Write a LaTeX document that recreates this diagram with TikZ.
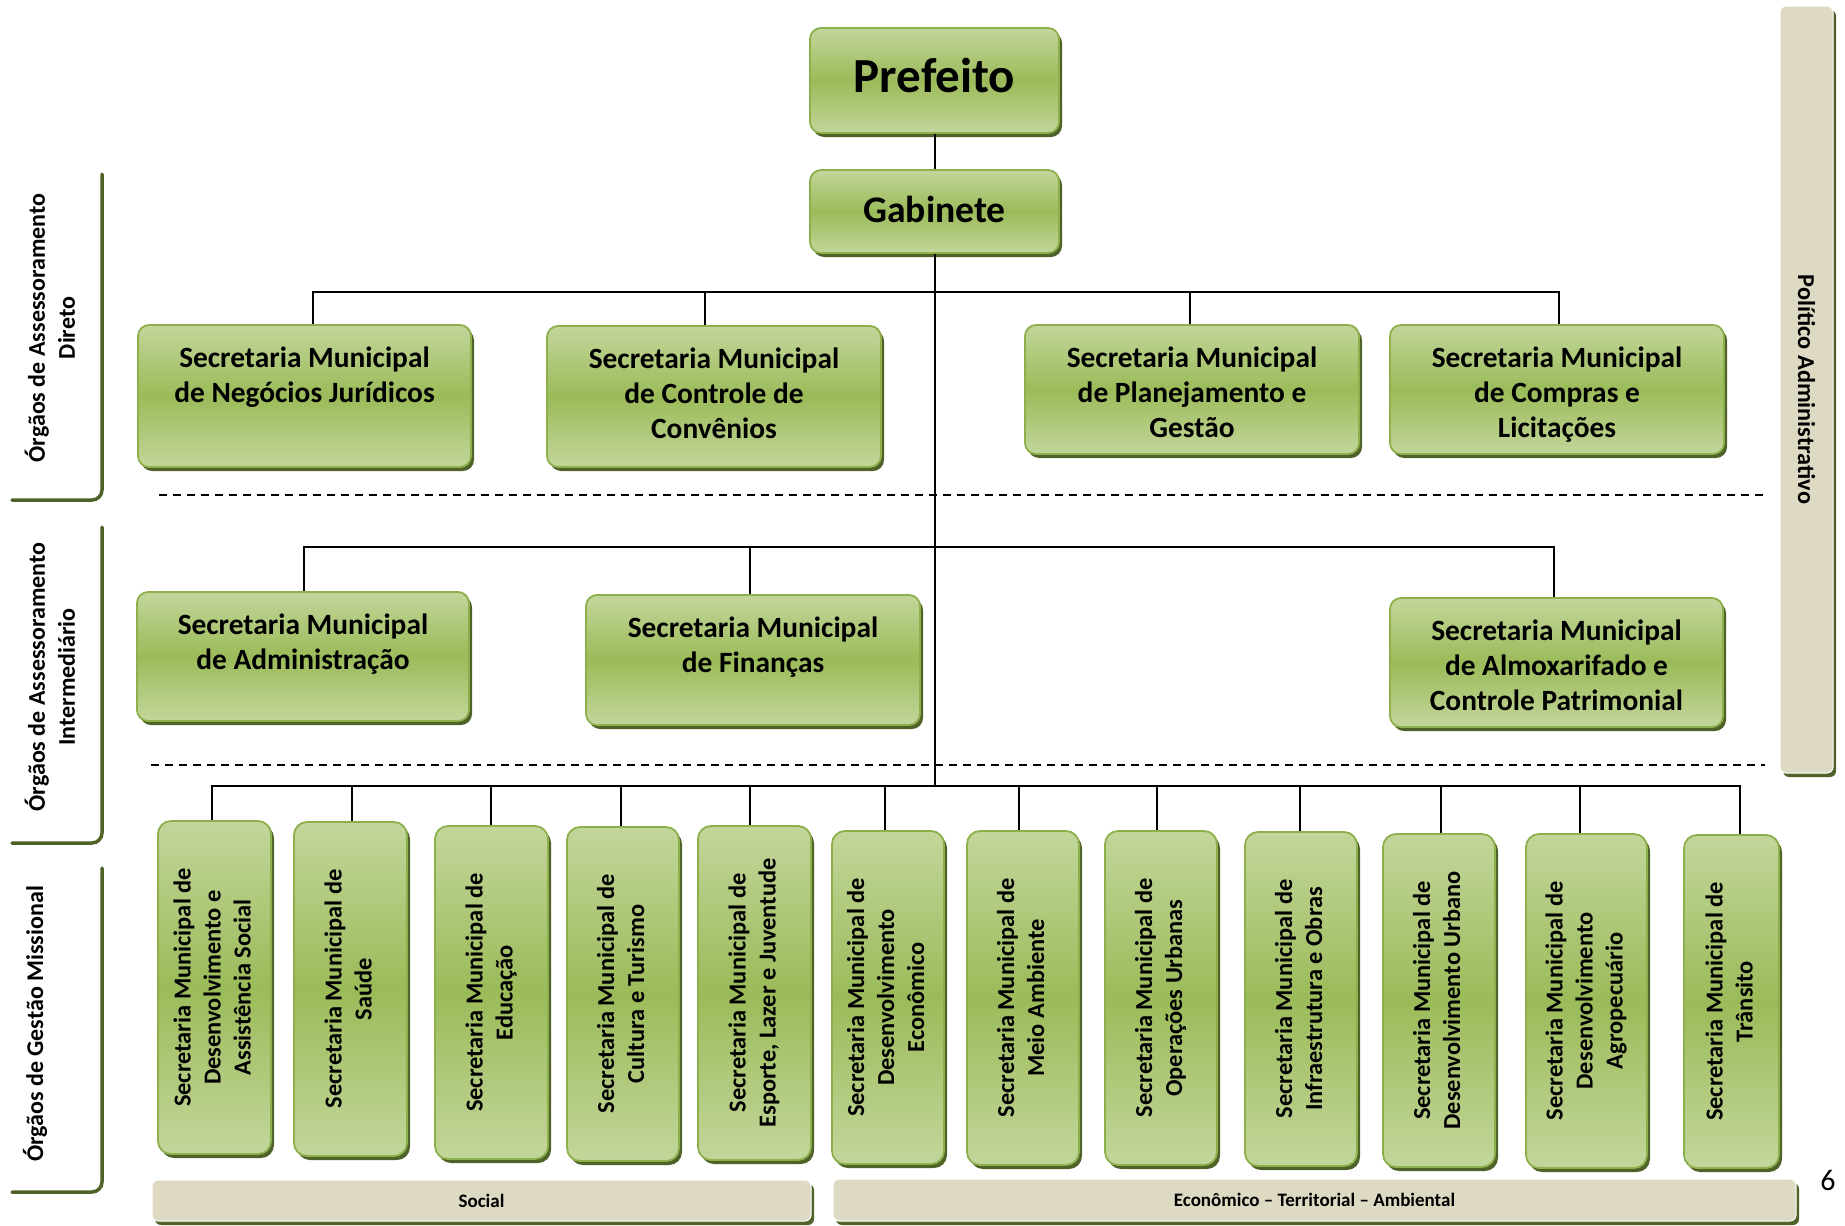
\documentclass[tikz,border=0pt]{standalone}
\usepackage{fontspec}
\setmainfont{Carlito}
\usetikzlibrary{shadows,calc}
\definecolor{glight}{HTML}{C3D69B}
\definecolor{gdark}{HTML}{9BBB59}
\definecolor{gborder}{HTML}{8DB04C}
\definecolor{shad}{HTML}{4F6228}
\definecolor{tanc}{HTML}{DDD9C3}
\newcommand\hbx[2]{\parbox[c][#1][t]{325pt}{\centering\rule{0pt}{42pt}#2}}
\newcommand\vtx[1]{\rotatebox{90}{\begin{tabular}{@{}c@{}}#1\end{tabular}}}
\begin{document}
\begin{tikzpicture}[x=1pt,y=-1pt,
  gbox/.style={draw=gborder, line width=1.8pt, rounded corners=11pt,
    top color=glight, bottom color=glight, middle color=gdark, inner sep=0pt,
    drop shadow={shadow xshift=3pt, shadow yshift=-4pt, fill=shad, opacity=1},
    font=\bfseries\fontsize{29.4}{35}\selectfont},
  vbox/.style={gbox, rounded corners=13pt, font=\bfseries\fontsize{24.4}{30}\selectfont},
  tanbar/.style={fill=tanc, draw=white, line width=1pt, rounded corners=6pt, inner sep=0pt,
    drop shadow={shadow xshift=3pt, shadow yshift=-4pt, fill=shad, opacity=1},
    font=\bfseries\fontsize{19}{23}\selectfont},
  conn/.style={line width=2pt, black},
  dashline/.style={line width=2.2pt, dash pattern=on 8pt off 6pt},
  brk/.style={draw=shad, line width=3.5pt, rounded corners=10pt, line cap=round},
  side/.style={rotate=90, align=center, font=\bfseries\fontsize{24}{30}\selectfont}]
\useasboundingbox (0,0) rectangle (1845,1226);

% top
\node[gbox, minimum width=249pt, minimum height=105pt, font=\bfseries\fontsize{49}{58}\selectfont] (pre) at (934.5,80.5) {\raisebox{10pt}{Prefeito}};
\node[gbox, minimum width=249pt, minimum height=83pt, font=\bfseries\fontsize{37.6}{45}\selectfont] (gab) at (934.5,211.5) {\raisebox{3.5pt}{Gabinete}};

% level 1
\node[gbox, minimum width=333pt, minimum height=142pt] (n1) at (304.5,396) {\hbx{142pt}{Secretaria Municipal\\de Negócios Jurídicos}};
\node[gbox, minimum width=334pt, minimum height=141pt] (n2) at (714,396.5) {\hbx{141pt}{Secretaria Municipal\\de Controle de\\Convênios}};
\node[gbox, minimum width=334pt, minimum height=129pt] (n3) at (1192,389.5) {\hbx{129pt}{Secretaria Municipal\\de Planejamento e\\Gestão}};
\node[gbox, minimum width=334pt, minimum height=129pt] (n4) at (1557,389.5) {\hbx{129pt}{Secretaria Municipal\\de Compras e\\Licitações}};

% level 2
\node[gbox, minimum width=332pt, minimum height=129pt] (a1) at (303,656.5) {\hbx{129pt}{Secretaria Municipal\\de Administração}};
\node[gbox, minimum width=334pt, minimum height=130pt] (a2) at (753,660) {\hbx{130pt}{Secretaria Municipal\\de Finanças}};
\node[gbox, minimum width=333pt, minimum height=129pt] (a3) at (1556.5,662.5) {\hbx{129pt}{Secretaria Municipal\\de Almoxarifado e\\Controle Patrimonial}};

% level 3
\node[vbox, minimum width=113pt, minimum height=333pt] (m1) at (214.5,987.5) {\vtx{Secretaria Municipal de\\Desenvolvimento e\\Assistência Social}};
\node[vbox, minimum width=113pt, minimum height=334pt] (m2) at (350.5,989) {\vtx{Secretaria Municipal de\\Saúde}};
\node[vbox, minimum width=113pt, minimum height=333pt] (m3) at (491.5,992.5) {\vtx{Secretaria Municipal de\\Educação}};
\node[vbox, minimum width=112pt, minimum height=334pt] (m4) at (623,994) {\vtx{Secretaria Municipal de\\Cultura e Turismo}};
\node[vbox, minimum width=113pt, minimum height=334pt] (m5) at (754.5,993) {\vtx{Secretaria Municipal de\\Esporte, Lazer e Juventude}};
\node[vbox, minimum width=112pt, minimum height=333pt] (m6) at (888,997.5) {\vtx{Secretaria Municipal de\\Desenvolvimento\\Econômico}};
\node[vbox, minimum width=112pt, minimum height=334pt] (m7) at (1023,998) {\vtx{Secretaria Municipal de\\Meio Ambiente}};
\node[vbox, minimum width=112pt, minimum height=334pt] (m8) at (1161,998) {\vtx{Secretaria Municipal de\\Operações Urbanas}};
\node[vbox, minimum width=112pt, minimum height=334pt] (m9) at (1301,999) {\vtx{Secretaria Municipal de\\Infraestrutura e Obras}};
\node[vbox, minimum width=112pt, minimum height=333pt] (m10) at (1439,1000.5) {\vtx{Secretaria Municipal de\\Desenvolvimento Urbano}};
\node[vbox, minimum width=121pt, minimum height=334pt] (m11) at (1586.5,1001) {\vtx{Secretaria Municipal de\\Desenvolvimento\\Agropecuário}};
\node[vbox, minimum width=95pt, minimum height=333pt] (m12) at (1731.5,1001.5) {\vtx{Secretaria Municipal de\\Trânsito}};

% bottom bars
\node[tanbar, minimum width=659pt, minimum height=41pt] (soc) at (481.5,1200.5) {Social};
\node[tanbar, minimum width=963pt, minimum height=42pt] (eco) at (1314.5,1200) {Econômico – Territorial – Ambiental};
% right bar
\node[tanbar, minimum width=53pt, minimum height=767pt, font=\bfseries\fontsize{24.3}{29}\selectfont] (pol) at (1806.5,389.5) {\rotatebox{-90}{Político Administrativo}};

% page number
\node[font=\fontsize{30}{36}\selectfont, inner sep=0pt] (pg) at (1828,1180) {6};

% hubs
\coordinate (hub1) at (934.5,292);
\coordinate (hub2) at (934.5,547);
\coordinate (hub3) at (934.5,786);

% connectors
\draw[conn] (pre.south) -- (gab.north);
\draw[conn] (gab.south) -- (hub3);
\draw[conn] (hub1) -| ([xshift=8.5pt]n1.north);
\draw[conn] (hub1) -| ([xshift=-9pt]n2.north);
\draw[conn] (hub1) -| ([xshift=-2pt]n3.north);
\draw[conn] (hub1) -| ([xshift=2pt]n4.north);
\draw[conn] (hub2) -| ([xshift=1pt]a1.north);
\draw[conn] (hub2) -| ([xshift=-3pt]a2.north);
\draw[conn] (hub2) -| ([xshift=-2.5pt]a3.north);
\foreach \n/\d in {m1/-2.5, m2/1, m3/-0.5, m4/-2, m5/-4.5, m6/-3, m7/-4, m8/-4, m9/-1, m10/2, m11/-7, m12/8.5}
  \draw[conn] (hub3) -| ([xshift=\d pt]\n.north);

% dashed separators
\coordinate (d1a) at (159,495); \coordinate (d1b) at (1765,495);
\coordinate (d2a) at (151,765); \coordinate (d2b) at (1765,765);
\draw[dashline] (d1a) -- (d1b);
\draw[dashline] (d2a) -- (d2b);

% left brackets
\draw[brk] (102,174) -- (102,500) -- (12,500);
\draw[brk] (102,527) -- (102,843) -- (12,843);
\draw[brk] (102,868) -- (102,1192) -- (12,1192);

% left labels
\node[side] (l1) at (50,328) {Órgãos de Assessoramento\\Direto};
\node[side] (l2) at (50,677) {Órgãos de Assessoramento\\Intermediário};
\node[side] (l3) at (35,1024) {Órgãos de Gestão Missional};
\end{tikzpicture}
\end{document}
